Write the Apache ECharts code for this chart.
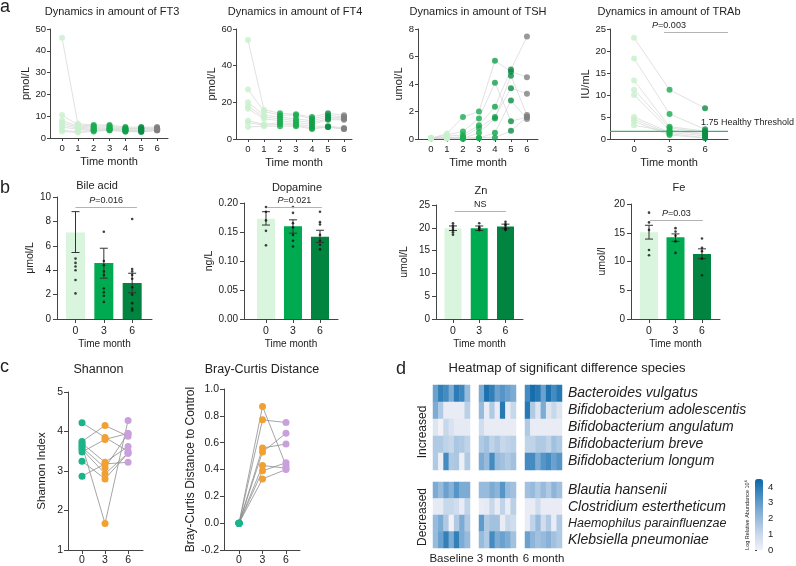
<!DOCTYPE html>
<html><head><meta charset="utf-8">
<script src="https://cdn.jsdelivr.net/npm/echarts@6/dist/echarts.min.js"></script>
<style>html,body{margin:0;padding:0;background:#fff}#c{width:796px;height:566px}</style>
</head><body><div id="c"></div>
<script>
const FONT = '"Liberation Sans", Arial, Helvetica, sans-serif';
const AX = '#444';
const TXT = '#222';

// ---------- Panel a ----------
const monthsA = [0, 1, 2, 3, 4, 5, 6];
const monthColorsA = ['#c8f0cc', '#c8f0cc', '#19ad50', '#19ad50', '#10a04a', '#0c8c45', '#808080'];
const ft3Values = [
  [46, 10.5, 8, 7, 6, 5, 3.5, 3],
  [6.5, 6, 5.5, 5, 4.5, 4, 3, 2.5],
  [6, 5.5, 5, 4.5, 4, 3.5, 3.5, 3],
  [6, 5.5, 5, 4.5, 4.2, 4, 3.5, 3.5],
  [5, 4.5, 4.2, 4, 3.5, 3.5, 3, 3],
  [5, 4.5, 4.5, 4, 3.5, 3.2, 3, 2.8],
  [5, 4.5, 4.5, 4.2, 4, 3.5, 3.5, 3.5]
];
const ft4Values = [
  [54, 27, 20, 18, 16.5, 10, 9, 6.5],
  [16, 15, 13, 12, 11, 8, 7.5, 7],
  [14, 13, 12, 11, 10, 9, 8, 7],
  [13.5, 13, 11, 10, 9, 8, 7.5, 7],
  [12, 11, 10, 9, 8, 7, 6, 5.5],
  [14, 13, 12, 11, 10.5, 7, 6.5, 6.5],
  [13, 12, 11.5, 11, 10.5, 6, 5.5, 5.5]
];
const tshValues = [
  [0.05, 0.05, 0.02, 0.1, 0.05, 0.02, 0.03],
  [0.4, 0.3, 0.2, 0.1, 0.05, 0.02, 0.1],
  [1.6, 0.55, 0.3, 0.15, 0.05, 0, 0.1],
  [2.0, 1.5, 1.0, 0.8, 0.45, 0.05, 0.1],
  [5.7, 4.1, 2.35, 1.6, 1.5, 0.45, 0.1],
  [4.9, 1.3, 5.05, 3.7, 4.6, 2.8, 0.6],
  [4.5, 1.6, 7.45, 3.3, 1.75, 1.45, 1.6]
];
const monthsTrab = [0, 3, 6];
const trabColors = ['#c8f0cc', '#19ad50', '#0c8c45'];
const trabValues = [
  [23, 18.3, 13.3, 11.2, 10, 5, 4.5, 4, 3.1],
  [11.2, 5.7, 2.8, 2.5, 2.0, 1.5, 1.2, 0.9, 1.7],
  [7.0, 2.2, 1.8, 1.5, 1.0, 0.7, 0.3, 0.2, 1.3]
];
const trabThreshold = 1.75;

// ---------- Panel b ----------
const groupsB = [0, 3, 6];
const barColorsB = ['#d9f5dd', '#00aa50', '#00843f'];
const bileMean = [7.1, 4.6, 2.95];
const bileLow = [5.45, 3.35, 2.15];
const bileHigh = [8.8, 5.8, 3.75];
const bilePoints = [[4.95, 4.6, 4.3, 4.0, 3.2, 2.1], [7.15, 4.75, 4.4, 3.9, 3.6, 2.5, 2.2, 1.9, 1.4], [8.2, 4.1, 3.9, 3.6, 3.3, 2.6, 2.0, 1.3, 0.85, 0.7]];
const dopaMean = [0.173, 0.160, 0.142];
const dopaLow = [0.162, 0.148, 0.132];
const dopaHigh = [0.185, 0.171, 0.153];
const dopaPoints = [[0.193, 0.185, 0.17, 0.152, 0.127], [0.193, 0.183, 0.165, 0.158, 0.145, 0.135, 0.125], [0.185, 0.167, 0.163, 0.145, 0.135, 0.128, 0.12]];
const znMean = [19.9, 19.9, 20.3];
const znLow = [19.4, 19.4, 19.8];
const znHigh = [20.4, 20.4, 20.8];
const znPoints = [[21, 20.5, 20, 19.5, 19, 18.5], [21, 20.2, 20, 19.8, 19.5], [21.3, 20.8, 20.5, 20, 19.7, 19.5]];
const feMean = [15.1, 14.2, 11.3];
const feLow = [13.9, 13.5, 10.5];
const feHigh = [16.3, 14.8, 12.2];
const fePoints = [[18.5, 16.8, 15.5, 12, 11.1], [15.8, 15.2, 14.5, 13.5, 11.5], [14, 12.4, 11.8, 10.5, 7.6]];

// ---------- Panel c ----------
const groupsC = [0, 3, 6];
const groupColorsC = ['#1db38a', '#f2a032', '#c9a0dc'];
const shannon0 = [4.22, 3.75, 3.70, 3.65, 3.60, 3.55, 3.48, 3.25, 2.87];
const shannon3 = [3.85, 4.15, 3.22, 1.67, 3.08, 2.93, 3.80, 2.80, 3.18];
const shannon6 = [3.50, 3.88, 3.62, 4.28, 3.95, 3.45, 3.95, 3.45, 3.22];
const bray0 = [0, 0, 0, 0, 0, 0, 0];
const bray3 = [0.87, 0.77, 0.56, 0.53, 0.43, 0.39, 0.33];
const bray6 = [0.43, 0.75, 0.59, 0.67, 0.41, 0.45, 0.40];

// ---------- Panel d ----------
const speciesInc = ['Bacteroides vulgatus', 'Bifidobacterium adolescentis', 'Bifidobacterium angulatum', 'Bifidobacterium breve', 'Bifidobacterium longum'];
const speciesDec = ['Blautia hansenii', 'Clostridium estertheticum', 'Haemophilus parainfluenzae', 'Klebsiella pneumoniae'];
const blockNames = ['Baseline', '3 month', '6 month'];
const hmColumns = ['s1', 's2', 's3', 's4', 's5', 's6', 's7'];
const hmBaseline = [
  [2.8, 3.8, 3.5, 2.5, 3.9, 3.6, 2.0],
  [2.5, 1.5, 0.2, 0.2, 0.2, 0.2, 1.3],
  [0.5, 0.0, 1.0, 0.6, 0.3, 0.3, 0.3],
  [1.5, 1.5, 1.2, 1.0, 1.6, 1.5, 1.2],
  [1.5, 0.1, 3.5, 1.5, 1.6, 0.1, 1.5],
  [2.5, 2.0, 2.8, 2.3, 3.2, 2.5, 2.5],
  [0.3, 0.3, 1.0, 1.0, 0.8, 0.2, 1.2],
  [2.0, 2.5, 1.5, 0.0, 1.5, 2.5, 1.5],
  [2.0, 2.8, 3.8, 2.5, 3.8, 2.5, 2.0]
];
const hm3m = [
  [2.5, 4.2, 3.8, 2.8, 3.2, 2.8, 2.5],
  [2.0, 0.2, 1.5, 0.2, 4.0, 0.2, 1.0],
  [0.8, 0.2, 0.2, 0.2, 0.2, 0.2, 0.2],
  [1.5, 1.8, 1.2, 1.5, 1.0, 1.2, 1.3],
  [2.5, 2.0, 3.5, 2.0, 1.8, 1.5, 1.8],
  [2.0, 2.0, 2.5, 2.2, 3.2, 2.0, 1.8],
  [0.2, 0.3, 1.0, 0.2, 1.2, 0.2, 1.3],
  [3.0, 1.5, 1.8, 1.8, 0.2, 1.0, 0.8],
  [2.0, 1.5, 3.5, 2.5, 2.8, 2.5, 1.8]
];
const hm6m = [
  [3.5, 4.3, 4.0, 2.8, 4.2, 3.5, 4.0],
  [4.0, 1.5, 0.5, 2.5, 0.5, 1.0, 0.5],
  [1.5, 0.2, 0.2, 0.2, 0.2, 0.2, 0.2],
  [1.2, 1.2, 1.5, 1.5, 1.2, 1.8, 1.5],
  [3.5, 3.5, 2.5, 3.2, 3.5, 2.8, 3.2],
  [1.8, 2.0, 1.5, 2.0, 1.5, 2.2, 1.8],
  [0.2, 0.2, 0.8, 0.2, 0.2, 0.2, 0.2],
  [0.2, 1.2, 2.0, 0.8, 1.5, 0.2, 1.5],
  [2.8, 2.2, 1.8, 2.0, 2.3, 1.8, 1.5]
];
const colorbarTicks = [0, 1, 2, 3, 4];
const heatColors = ['#f1f1f7', '#c3d5ea', '#8ab3d8', '#4b8fc4', '#0b67a8'];

// ================= build =================
const grid = [], xAxis = [], yAxis = [], series = [], graphic = [];
function addGrid(r, xa, ya) {
  const g = grid.length;
  grid.push({left: r[0], top: r[1], width: r[2], height: r[3]});
  xAxis.push(Object.assign({gridIndex: g}, xa));
  yAxis.push(Object.assign({gridIndex: g}, ya));
  return g;
}
function axLine() { return {show: true, onZero: false, lineStyle: {color: AX, width: 1}}; }
function xVal(min, max, ticks, o) {
  return {type: 'value', min, max, splitLine: {show: false}, axisLine: axLine(),
    axisTick: {show: true, length: o.tick, customValues: ticks, lineStyle: {color: AX}},
    axisLabel: {show: true, customValues: ticks, color: TXT, fontFamily: FONT, fontSize: o.fs, margin: o.margin},
    name: o.name, nameLocation: 'middle', nameGap: o.nameGap,
    nameTextStyle: {color: TXT, fontFamily: FONT, fontSize: o.nameFs}};
}
function yVal(min, max, interval, o) {
  const a = {type: 'value', min, max, interval, splitLine: {show: false}, axisLine: axLine(),
    axisTick: {show: true, length: o.tick, lineStyle: {color: AX}},
    axisLabel: {color: TXT, fontFamily: FONT, fontSize: o.fs, margin: o.margin},
    name: o.name, nameLocation: 'middle', nameGap: o.nameGap,
    nameTextStyle: {color: TXT, fontFamily: FONT, fontSize: o.nameFs}};
  if (o.fmt) a.axisLabel.formatter = o.fmt;
  return a;
}
function text(x, y, s, o) {
  graphic.push(Object.assign({type: 'text', x, y, silent: true,
    style: Object.assign({text: s, fill: TXT, fontFamily: FONT, fontSize: 11,
      align: 'center', verticalAlign: 'middle', textAlign: 'center', textVerticalAlign: 'middle'}, o && o.style)},
    o && o.el));
}

// ---- panel a ----
function panelA(rect, xmin, xmax, months, values, colors, yMax, yInt, yName, yNameGap) {
  const g = addGrid(rect,
    xVal(xmin, xmax, months, {tick: 3, fs: 9.5, margin: 5, name: 'Time month', nameGap: 18, nameFs: 11}),
    yVal(0, yMax, yInt, {tick: 3, fs: 9.5, margin: 4, name: yName, nameGap: yNameGap, nameFs: 11}));
  const nSub = values[0].length;
  for (let i = 0; i < nSub; i++) {
    series.push({type: 'line', xAxisIndex: g, yAxisIndex: g, data: months.map((m, k) => [m, values[k][i]]),
      symbol: 'none', lineStyle: {color: '#d9d9d9', width: 0.8}, silent: true, z: 1});
  }
  const pts = [];
  months.forEach((m, k) => values[k].forEach(v => pts.push({value: [m, v], itemStyle: {color: colors[k]}})));
  series.push({type: 'scatter', xAxisIndex: g, yAxisIndex: g, data: pts, symbolSize: 6, z: 3, silent: true});
  return {grid: g, scatter: series.length - 1, xmin, xmax};
}
panelA([50, 29, 118, 109], -0.76, 6.69, monthsA, ft3Values, monthColorsA, 50, 10, 'pmol/L', 16);
panelA([236, 29, 116, 110], -0.75, 6.5, monthsA, ft4Values, monthColorsA, 60, 20, 'pmol/L', 14);
panelA([418, 29, 120, 110], -0.81, 6.69, monthsA, tshValues, monthColorsA, 8, 2, 'umol/L', 10);
const trab = panelA([610, 29, 118, 110], -2.03, 7.94, monthsTrab, trabValues, trabColors, 25, 5, 'IU/mL', 16);
// healthy threshold as a horizontal line drawn through the axes
series.push({type: 'line', xAxisIndex: trab.grid, yAxisIndex: trab.grid, symbol: 'none', silent: true, z: 2,
  data: [[trab.xmin, trabThreshold], [trab.xmax, trabThreshold]],
  lineStyle: {color: '#3cb371', width: 1.2, type: 'solid'}, itemStyle: {color: '#3cb371'}});
series[trab.scatter].markLine = {silent: true, symbol: ['none', 'none'], animation: false,
  label: {show: false}, emphasis: {disabled: true},
  lineStyle: {color: '#b3b3b3', width: 1, type: 'solid'},
  data: [[{coord: [2.54, 24.3]}, {coord: [trab.xmax, 24.3]}]]};

// ---- panel b ----
function errRender(params, api) {
  const x = api.value(0), lo = api.value(1), hi = api.value(2);
  const a = api.coord([x, lo]), b = api.coord([x, hi]);
  const hw = 4, st = {stroke: '#333', lineWidth: 1};
  return {type: 'group', children: [
    {type: 'line', shape: {x1: a[0], y1: a[1], x2: b[0], y2: b[1]}, style: st},
    {type: 'line', shape: {x1: b[0] - hw, y1: b[1], x2: b[0] + hw, y2: b[1]}, style: st},
    {type: 'line', shape: {x1: a[0] - hw, y1: a[1], x2: a[0] + hw, y2: a[1]}, style: st}
  ]};
}
function sigLine(s) {
  return {silent: true, symbol: ['none', 'none'], animation: false, emphasis: {disabled: true},
    lineStyle: {color: '#b3b3b3', width: 1, type: 'solid'},
    label: {show: true, position: 'insideMiddleTop', distance: 2, formatter: s.text, color: TXT,
      fontFamily: FONT, fontSize: 9, rich: {i: {fontStyle: 'italic', fontSize: 9, fontFamily: FONT, color: TXT}}},
    data: [[{coord: [s.x1, s.y]}, {coord: [s.x2, s.y]}]]};
}
function panelB(rect, xmin, xmax, mean, lo, hi, pts, yMax, yInt, fmt, yName, yNameGap, barW, sig) {
  const g = addGrid(rect,
    xVal(xmin, xmax, groupsB, {tick: 4, fs: 10.5, margin: 7, name: 'Time month', nameGap: 20, nameFs: 10}),
    yVal(0, yMax, yInt, {tick: 4, fs: 10, margin: 6, fmt, name: yName, nameGap: yNameGap, nameFs: 10.5}));
  series.push({type: 'bar', xAxisIndex: g, yAxisIndex: g, barWidth: barW, silent: true, z: 1,
    data: groupsB.map((x, k) => ({value: [x, mean[k]], itemStyle: {color: barColorsB[k]}}))});
  series.push({type: 'custom', xAxisIndex: g, yAxisIndex: g, silent: true, z: 2,
    data: groupsB.map((x, k) => [x, lo[k], hi[k]]), encode: {x: 0, y: [1, 2]}, renderItem: errRender});
  const p = [];
  groupsB.forEach((x, k) => pts[k].forEach(v => p.push([x, v])));
  series.push({type: 'scatter', xAxisIndex: g, yAxisIndex: g, data: p, symbolSize: 2.6, silent: true, z: 3,
    itemStyle: {color: '#111'}, markLine: sigLine(sig)});
}
panelB([57, 197, 95, 122], -1.96, 8.1, bileMean, bileLow, bileHigh, bilePoints, 10, 2, null, 'μmol/L', 19, 19,
  {x1: 0, x2: 6.5, y: 9.2, text: '{i|P}=0.016'});
panelB([244, 203, 94, 116], -2.44, 8.0, dopaMean, dopaLow, dopaHigh, dopaPoints, 0.2, 0.05, v => v.toFixed(2), 'ng/L', 24, 18,
  {x1: 0.1, x2: 6.2, y: 0.193, text: '{i|P}=0.021'});
panelB([436, 205, 87, 114], -1.94, 8.0, znMean, znLow, znHigh, znPoints, 25, 5, null, 'umol/L', 26, 17,
  {x1: 0.2, x2: 6.06, y: 23.7, text: 'NS'});
panelB([631, 204, 89, 115], -2.04, 8.04, feMean, feLow, feHigh, fePoints, 20, 5, null, 'umol/l', 23, 18,
  {x1: 0.1, x2: 6.1, y: 17.2, text: '{i|P}=0.03'});

// ---- panel c ----
function panelC(rect, xmin, xmax, yMin, yMax, yInt, fmt, yName, yNameGap, yNameFs, g0, g3, g6) {
  const g = addGrid(rect,
    xVal(xmin, xmax, groupsC, {tick: 4, fs: 10.5, margin: 5, name: '', nameGap: 0, nameFs: 10}),
    yVal(yMin, yMax, yInt, {tick: 4, fs: 10.5, margin: 5, fmt, name: yName, nameGap: yNameGap, nameFs: yNameFs}));
  for (let i = 0; i < g3.length; i++) {
    series.push({type: 'line', xAxisIndex: g, yAxisIndex: g, data: [[0, g0[i]], [3, g3[i]], [6, g6[i]]],
      symbol: 'none', lineStyle: {color: '#8e8e8e', width: 0.8}, silent: true, z: 1});
  }
  [g0, g3, g6].forEach((arr, k) => {
    series.push({type: 'scatter', xAxisIndex: g, yAxisIndex: g, data: arr.map(v => [groupsC[k], v]),
      symbolSize: 7, itemStyle: {color: groupColorsC[k], opacity: 1}, silent: true, z: 3});
  });
}
panelC([68, 392, 75, 160], -1.83, 7.95, 1, 5, 1, null, 'Shannon Index', 20, 11.5, shannon0, shannon3, shannon6);
panelC([224, 389, 76, 161], -1.92, 7.79, -0.2, 1.0, 0.2, v => v.toFixed(1), 'Bray-Curtis Distance to Control', 26, 12, bray0, bray3, bray6);

// ---- panel d ----
const hmBlocks = [hmBaseline, hm3m, hm6m];
const hmLefts = [433, 479, 525];
const hmIdx = [];
const sections = [{r0: 0, r1: 5, top: 385, h: 85, names: speciesInc}, {r0: 5, r1: 9, top: 482, h: 71, names: speciesDec}];
hmBlocks.forEach((blk, b) => {
  sections.forEach((sec, si) => {
    const last = b === 2;
    const g = addGrid([hmLefts[b], sec.top, 37, sec.h],
      {type: 'category', data: hmColumns, axisLine: {show: false}, axisTick: {show: false}, axisLabel: {show: false},
        splitLine: {show: false}, name: si === 1 ? blockNames[b] : '', nameLocation: 'middle', nameGap: 5,
        nameTextStyle: {color: TXT, fontFamily: FONT, fontSize: 11.5}},
      {type: 'category', data: sec.names, inverse: true, position: 'right', show: last,
        axisLine: {show: false}, axisTick: {show: false}, splitLine: {show: false},
        axisLabel: {show: last, interval: 0, margin: 6, color: TXT, fontFamily: FONT, fontSize: 14, fontStyle: 'italic',
          hideOverlap: false,
          formatter: v => v.indexOf('Haemophilus') === 0 ? '{s|' + v + '}' : v,
          rich: {s: {fontSize: 12.5, fontStyle: 'italic', fontFamily: FONT, color: TXT}}}});
    const d = [];
    for (let r = sec.r0; r < sec.r1; r++) blk[r].forEach((v, c) => d.push([c, r - sec.r0, v]));
    hmIdx.push(series.length);
    series.push({type: 'heatmap', xAxisIndex: g, yAxisIndex: g, data: d, silent: true, progressive: 0});
  });
});
const gcb = addGrid([755, 479, 8, 71], {type: 'value', show: false, min: 0, max: 1},
  {type: 'value', position: 'right', min: 0, max: 4.5, splitLine: {show: false}, axisLine: {show: false},
    axisTick: {show: true, length: 2, customValues: colorbarTicks, lineStyle: {color: AX}},
    axisLabel: {customValues: colorbarTicks, fontSize: 9.5, margin: 5, color: TXT, fontFamily: FONT}});
series.push({type: 'scatter', xAxisIndex: gcb, yAxisIndex: gcb, data: []});

// ---- texts ----
const L = {align: 'left', textAlign: 'left'};
text(0, 7, 'a', {style: Object.assign({fontSize: 18}, L)});
text(0, 188, 'b', {style: Object.assign({fontSize: 18}, L)});
text(0, 367.5, 'c', {style: Object.assign({fontSize: 18}, L)});
text(396, 369, 'd', {style: Object.assign({fontSize: 18}, L)});
text(112, 12, 'Dynamics in amount of FT3');
text(295, 12, 'Dynamics in amount of FT4');
text(478, 12, 'Dynamics in amount of TSH');
text(669, 12, 'Dynamics in amount of TRAb');
text(669, 25.5, '{i|P}=0.003', {style: {fontSize: 9, rich: {i: {fontStyle: 'italic', fontSize: 9, fontFamily: FONT, fill: TXT}}}});
text(701, 123, '1.75 Healthy Threshold', {style: Object.assign({fontSize: 9}, L)});
text(97, 186, 'Bile acid');
text(297, 188, 'Dopamine');
text(481, 191, 'Zn');
text(679, 187.5, 'Fe');
text(98.5, 369.5, 'Shannon', {style: {fontSize: 12.5}});
text(262, 369.5, 'Bray-Curtis Distance', {style: {fontSize: 12.5}});
text(567, 368, 'Heatmap of significant difference species', {style: {fontSize: 13}});
text(423, 432, 'Increased', {style: {fontSize: 12}, el: {rotation: Math.PI / 2}});
text(423, 517, 'Decreased', {style: {fontSize: 12}, el: {rotation: Math.PI / 2}});
text(747, 515, 'Log Relative Abundance 10⁶', {style: {fontSize: 5.5}, el: {rotation: Math.PI / 2}});

const chart = echarts.init(document.getElementById('c'));
chart.setOption({
  animation: false,
  backgroundColor: '#fff',
  textStyle: {fontFamily: FONT},
  grid, xAxis, yAxis, series, graphic,
  visualMap: {type: 'continuous', min: 0, max: 4.5, seriesIndex: hmIdx, orient: 'vertical',
    left: 755, top: 479, itemWidth: 8, itemHeight: 71, calculable: false, show: true, padding: 0,
    inRange: {color: heatColors}}
});
</script></body></html>
